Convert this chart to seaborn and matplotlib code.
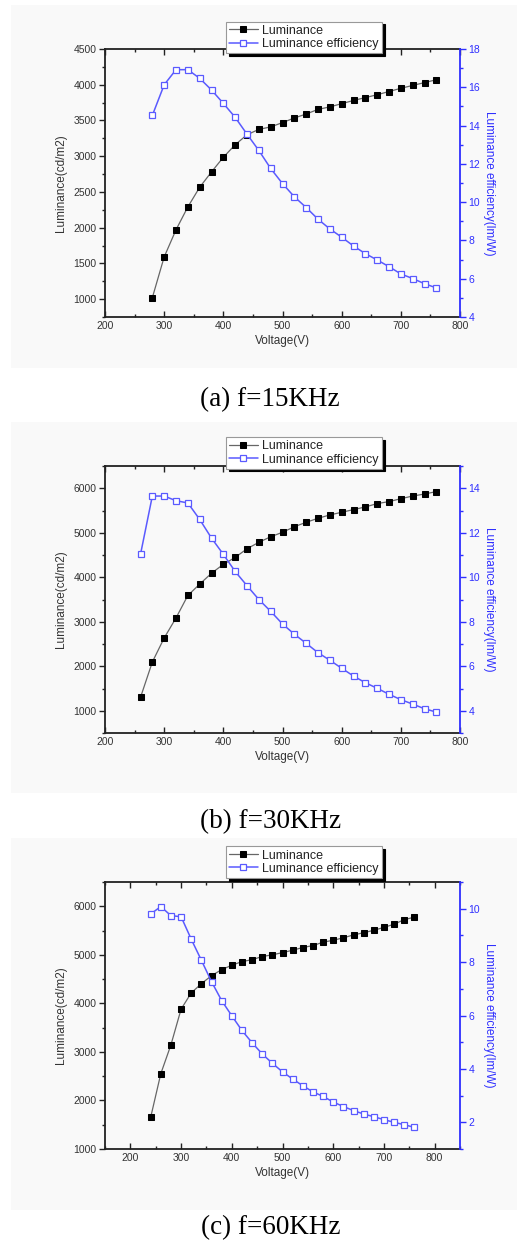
import numpy as np
import pandas as pd
import matplotlib
matplotlib.use("Agg")
import matplotlib.pyplot as plt
from matplotlib.patches import Rectangle
from matplotlib.ticker import MultipleLocator
import seaborn as sns

sns.set_style("ticks")
plt.rcParams['font.family'] = ['Liberation Sans', 'DejaVu Sans']

# ---------------- data ----------------
volt_a = list(range(280, 761, 20))
lum_a = [1020, 1590, 1970, 2290, 2565, 2780, 2985, 3160, 3300, 3375, 3410, 3470,
         3535, 3590, 3655, 3690, 3735, 3780, 3820, 3860, 3905, 3950, 3990, 4030, 4070]
eff_a = [14.53, 16.13, 16.92, 16.92, 16.47, 15.86, 15.16, 14.43, 13.55, 12.70, 11.76,
         10.97, 10.28, 9.72, 9.11, 8.60, 8.17, 7.71, 7.31, 6.98, 6.63, 6.25, 6.01, 5.74, 5.52]

volt_b = list(range(260, 761, 20))
lum_b = [1300, 2095, 2635, 3085, 3590, 3845, 4090, 4290, 4445, 4640, 4785, 4910, 5010,
         5135, 5235, 5325, 5400, 5460, 5520, 5580, 5655, 5700, 5765, 5825, 5870, 5925]
eff_b = [11.03, 13.65, 13.65, 13.44, 13.34, 12.60, 11.76, 11.03, 10.26, 9.62, 9.00, 8.47,
         7.90, 7.44, 7.03, 6.61, 6.27, 5.91, 5.56, 5.26, 5.01, 4.74, 4.50, 4.30, 4.09, 3.94]

volt_c = list(range(240, 761, 20))
lum_c = [1650, 2550, 3145, 3880, 4215, 4405, 4570, 4695, 4785, 4860, 4900, 4965, 5000,
         5045, 5095, 5150, 5190, 5260, 5300, 5350, 5410, 5455, 5505, 5565, 5630, 5725, 5775]
eff_c = [9.80, 10.08, 9.74, 9.70, 8.86, 8.07, 7.27, 6.56, 5.99, 5.44, 4.98, 4.56, 4.21,
         3.89, 3.62, 3.37, 3.14, 2.97, 2.76, 2.59, 2.44, 2.31, 2.21, 2.10, 2.00, 1.91, 1.81]

captions = ["(a) f=15KHz", "(b) f=30KHz", "(c) f=60KHz"]
legend_labels = ["Luminance", "Luminance efficiency"]

# ---------------- layout ----------------
W, H = 530, 1247
fig = plt.figure(figsize=(W / 100, H / 100), dpi=100)
fig.patch.set_facecolor("white")

BLUE = "#2f2fff"
LBLUE = "#5a5aff"
TXT = "#333333"

panels = [
    dict(v=volt_a, l=lum_a, e=eff_a, top=49, bot=317, xlim=(200, 800), xstep=100,
         ylim=(750, 4500), ystep=500, y2lim=(4, 18), y2step=2,
         bg=(5, 368), cap_y=400, leg_y=0.985),
    dict(v=volt_b, l=lum_b, e=eff_b, top=466, bot=733, xlim=(200, 800), xstep=100,
         ylim=(500, 6500), ystep=1000, y2lim=(3, 15), y2step=2,
         bg=(422, 793), cap_y=822, leg_y=0.99),
    dict(v=volt_c, l=lum_c, e=eff_c, top=882, bot=1149, xlim=(150, 850), xstep=100,
         ylim=(1000, 6500), ystep=1000, y2lim=(1, 11), y2step=2,
         bg=(838, 1210), cap_y=1228, leg_y=1.015),
]

left_px, right_px = 105, 460

for p, cap in zip(panels, captions):
    # light panel background
    y0, y1 = p["bg"]
    fig.patches.append(Rectangle((11 / W, 1 - y1 / H), (517 - 11) / W, (y1 - y0) / H,
                                 transform=fig.transFigure, facecolor="#f9f9f9",
                                 edgecolor="none", zorder=-5))
    ax = fig.add_axes([left_px / W, 1 - p["bot"] / H, (right_px - left_px) / W,
                       (p["bot"] - p["top"]) / H])
    ax.set_facecolor("none")
    ax2 = ax.twinx()
    ax2.set_facecolor("none")

    df = pd.DataFrame({"Voltage": p["v"], "Lum": p["l"], "Eff": p["e"]})
    sns.lineplot(data=df, x="Voltage", y="Lum", ax=ax, color="#666666", lw=0.9,
                 marker="s", markersize=5, markerfacecolor="black",
                 markeredgecolor="black", label=legend_labels[0], legend=False)
    sns.lineplot(data=df, x="Voltage", y="Eff", ax=ax2, color=LBLUE, lw=1.1,
                 marker="s", markersize=5, markerfacecolor="white",
                 markeredgecolor=LBLUE, markeredgewidth=0.9,
                 label=legend_labels[1], legend=False)

    ax.set_xlim(*p["xlim"])
    ax.set_ylim(*p["ylim"])
    ax2.set_ylim(*p["y2lim"])
    ax.xaxis.set_major_locator(MultipleLocator(p["xstep"]))
    ax.xaxis.set_minor_locator(MultipleLocator(p["xstep"] / 2))
    ax.set_yticks([t for t in np.arange(0, 7001, p["ystep"]) if p["ylim"][0] <= t <= p["ylim"][1]])
    ax.yaxis.set_minor_locator(MultipleLocator(p["ystep"] / 2))
    ax2.yaxis.set_major_locator(MultipleLocator(p["y2step"]))
    ax2.yaxis.set_minor_locator(MultipleLocator(p["y2step"] / 2))

    for s in ["left", "bottom", "top"]:
        ax.spines[s].set_linewidth(1.3)
        ax.spines[s].set_color("#222222")
    ax.spines["right"].set_visible(False)
    ax2.spines["right"].set_color(BLUE)
    ax2.spines["right"].set_linewidth(1.3)
    for s in ["left", "bottom", "top"]:
        ax2.spines[s].set_visible(False)

    ax.tick_params(axis="x", which="both", direction="in", top=True, labelsize=7.5,
                   labelcolor=TXT, pad=3, color="#222222")
    ax.tick_params(axis="x", which="major", length=4, width=1)
    ax.tick_params(axis="x", which="minor", length=2.5, width=1)
    ax.tick_params(axis="y", which="both", direction="out", labelsize=7.5,
                   labelcolor=TXT, color="#222222", pad=2)
    ax.tick_params(axis="y", which="major", length=4, width=1)
    ax.tick_params(axis="y", which="minor", length=2.5, width=1)
    ax2.tick_params(axis="y", which="both", direction="out", labelsize=7.5,
                    labelcolor=BLUE, color=BLUE, pad=2)
    ax2.tick_params(axis="y", which="major", length=4, width=1)
    ax2.tick_params(axis="y", which="minor", length=2.5, width=1)

    ax.set_xlabel("Voltage(V)", fontsize=8.5, color=TXT, labelpad=3)
    ax.set_ylabel("Luminance(cd/m2)", fontsize=8.5, color=TXT, labelpad=5)
    ax2.set_ylabel("Luminance efficiency(lm/W)", fontsize=8.5, color=BLUE,
                   rotation=270, labelpad=11)

    h1, _ = ax.get_legend_handles_labels()
    h2, _ = ax2.get_legend_handles_labels()
    leg = ax2.legend(h1 + h2, legend_labels, loc="lower center",
                     bbox_to_anchor=(0.56, p["leg_y"]), fontsize=9, frameon=True,
                     fancybox=False, shadow={"color": "black", "alpha": 1.0},
                     edgecolor="#999999", framealpha=1, borderpad=0.25,
                     handlelength=2.3, handletextpad=0.35, labelspacing=0.1,
                     borderaxespad=0)
    leg.get_frame().set_linewidth(0.8)
    for t in leg.get_texts():
        t.set_color("#222222")
    leg.set_zorder(10)

    fig.text(0.51, 1 - p["cap_y"] / H, cap, ha="center", va="center",
             fontsize=19.5, family="Liberation Serif", color="black")

fig.savefig("out.png", dpi=100)
